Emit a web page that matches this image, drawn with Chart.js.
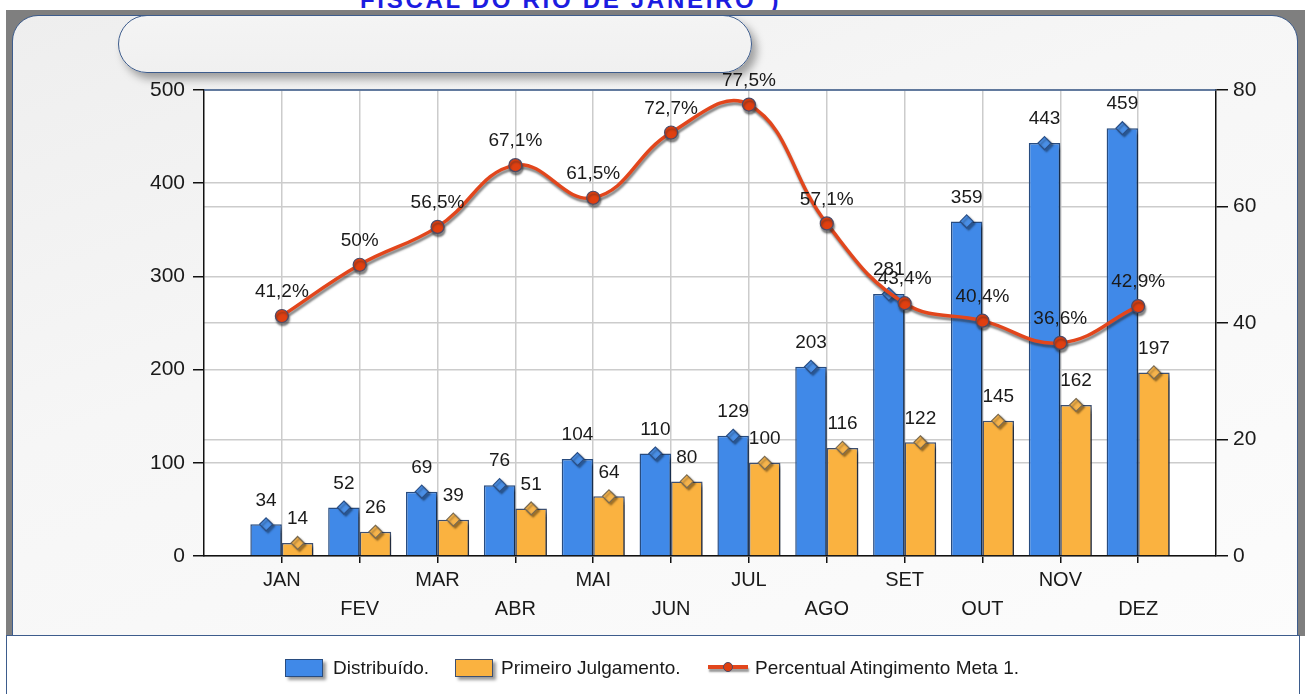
<!DOCTYPE html>
<html><head><meta charset="utf-8">
<script src="https://cdn.jsdelivr.net/npm/chart.js@4/dist/chart.umd.min.js"></script>
<style>
html,body{margin:0;padding:0;background:#fff;width:1305px;height:694px;overflow:hidden;font-family:'Liberation Sans',Arial,sans-serif;}
#toptitle{position:absolute;left:360px;top:-12px;font:bold 24px 'Liberation Sans',Arial,sans-serif;color:#1c1ce0;letter-spacing:2.7px;white-space:nowrap;line-height:24px}
#outer{position:absolute;left:6px;top:10px;width:1299px;height:626px;background:#7f7f7f}
#panel{position:absolute;left:12px;top:15px;width:1286px;height:630px;box-sizing:border-box;border:1.5px solid #3d5c8c;border-radius:26px 26px 0 0;background:linear-gradient(160deg,#eeeeee 0%,#f6f6f6 40%,#fcfcfc 100%)}
#titlebox{position:absolute;left:118px;top:15px;width:634px;height:58px;box-sizing:border-box;border:1.5px solid #3d5c8c;border-radius:29px;background:linear-gradient(180deg,#f4f4f4,#f0f0f0);box-shadow:5px 6px 8px rgba(0,0,0,0.35);z-index:3}
#legendbox{position:absolute;left:6px;top:635px;width:1294px;height:70px;box-sizing:border-box;border:1.5px solid #3d5c8c;background:#fff;z-index:1}
canvas{position:absolute;left:0;top:0;z-index:2}
.lg{position:absolute;z-index:4}
.lgbox{top:659px;width:38px;height:18px;box-sizing:border-box;border:1.5px solid #284c80;box-shadow:3px 3px 3px rgba(0,0,0,0.4)}
.lgtxt{top:656px;font-size:19px;line-height:24px;color:#1a1a1a;white-space:nowrap}
.lgline{top:665px;width:40px;height:4px;background:#e2461c;box-shadow:1px 3px 2px rgba(0,0,0,0.4)}
.lgdot{top:662px;width:10px;height:10px;border-radius:50%;background:#e03f10;box-sizing:border-box;border:1px solid #4d4a66}
</style></head>
<body>
<div id="toptitle">FISCAL DO RIO DE JANEIRO")</div>
<div id="outer"></div>
<div id="panel"></div>
<div id="titlebox"></div>
<div id="legendbox"></div>
<canvas id="c" width="1305" height="694"></canvas>
<div class="lg lgbox" style="left:285px;background:#4089e8"></div>
<div class="lg lgtxt" id="lt0" style="left:333px"></div>
<div class="lg lgbox" style="left:455px;background:#fab240;border-color:#3d4f70"></div>
<div class="lg lgtxt" id="lt1" style="left:501px"></div>
<div class="lg lgline" style="left:708px"></div>
<div class="lg lgdot" style="left:723px"></div>
<div class="lg lgtxt" id="lt2" style="left:755px"></div>
<script>
const categories = ['JAN','FEV','MAR','ABR','MAI','JUN','JUL','AGO','SET','OUT','NOV','DEZ'];
const distribuido = [34,52,69,76,104,110,129,203,281,359,443,459];
const primeiroJulgamento = [14,26,39,51,64,80,100,116,122,145,162,197];
const percentualMeta = [41.2,50,56.5,67.1,61.5,72.7,77.5,57.1,43.4,40.4,36.6,42.9];
const leftTicks = [0,100,200,300,400,500];
const rightTicks = [0,20,40,60,80];
const seriesNames = ['Distribuído.','Primeiro Julgamento.','Percentual Atingimento Meta 1.'];

seriesNames.forEach((n,i)=>{document.getElementById('lt'+i).textContent=n;});

Chart.defaults.font.family = "'Liberation Sans', Arial, sans-serif";
const TXT = '#1a1a1a';

function diamond(ctx,x,y,r){
  ctx.beginPath(); ctx.moveTo(x,y-r); ctx.lineTo(x+r,y); ctx.lineTo(x,y+r); ctx.lineTo(x-r,y); ctx.closePath();
  ctx.fill(); ctx.stroke();
}

const decor = {
  id:'decor',
  beforeDraw(chart){
    const {ctx, chartArea:a} = chart;
    ctx.save(); ctx.fillStyle='#ffffff'; ctx.fillRect(a.left,a.top,a.right-a.left,a.bottom-a.top); ctx.restore();
  },
  beforeDatasetDraw(chart,args){
    const ds = chart.data.datasets[args.index]; const ctx = chart.ctx;
    ctx.save();
    if(ds.type==='line'){ ctx.shadowColor='rgba(40,40,40,0.55)'; ctx.shadowOffsetX=1; ctx.shadowOffsetY=3; ctx.shadowBlur=2; }
    else { ctx.shadowColor='rgba(0,0,0,0.45)'; ctx.shadowOffsetX=4; ctx.shadowOffsetY=3; ctx.shadowBlur=3; }
  },
  afterDatasetDraw(chart,args){
    const ctx = chart.ctx; ctx.restore();
    const ds = chart.data.datasets[args.index];
    if(ds.type==='bar'){
      const meta = chart.getDatasetMeta(args.index);
      ctx.save();
      ctx.shadowColor='rgba(0,0,0,0.35)'; ctx.shadowOffsetX=2; ctx.shadowOffsetY=2; ctx.shadowBlur=2;
      ctx.fillStyle = ds.markerColor; ctx.strokeStyle = ds.markerBorder; ctx.lineWidth = 1.2;
      meta.data.forEach(el=>diamond(ctx, el.x, el.y, 6.5));
      ctx.restore();
    }
  },
  afterDatasetsDraw(chart){
    const {ctx, chartArea:a} = chart;
    ctx.save();
    ctx.strokeStyle='#3d5c8c'; ctx.lineWidth=1.5;
    ctx.beginPath(); ctx.moveTo(a.left,a.top); ctx.lineTo(a.right,a.top); ctx.stroke();
    ctx.font = "19px 'Liberation Sans', Arial, sans-serif";
    ctx.fillStyle = TXT; ctx.textAlign='center'; ctx.textBaseline='middle';
    chart.data.datasets.forEach((ds,i)=>{
      const meta = chart.getDatasetMeta(i);
      meta.data.forEach((el,j)=>{
        const v = ds.data[j].y;
        const t = ds.type==='line' ? String(v).replace('.',',')+'%' : String(v);
        ctx.fillText(t, el.x, el.y-24);
      });
    });
    ctx.restore();
  }
};

const gridCommon = {color:'#cccccc', lineWidth:1.5, tickColor:'#111111', tickWidth:1.5};

new Chart(document.getElementById('c'), {
  type:'bar',
  data:{
    datasets:[
      {type:'line', label:seriesNames[2], yAxisID:'y2', order:0,
       data: categories.map((c,i)=>({x:i+1, y:percentualMeta[i]})),
       borderColor:'#e2461c', borderWidth:3.5, tension:0.42, fill:false,
       pointRadius:6.5, pointBackgroundColor:'#e03f10', pointBorderColor:'#4d4a66', pointBorderWidth:1.2},
      {type:'bar', label:seriesNames[0], yAxisID:'y', order:1,
       data: categories.map((c,i)=>({x:i+1, y:distribuido[i]})),
       backgroundColor:'#4089e8', borderColor:'#284c80', borderWidth:1.5,
       categoryPercentage:0.81, barPercentage:1, markerColor:'#4a8fe6', markerBorder:'#2a4f86'},
      {type:'bar', label:seriesNames[1], yAxisID:'y', order:2,
       data: categories.map((c,i)=>({x:i+1, y:primeiroJulgamento[i]})),
       backgroundColor:'#fab240', borderColor:'#3d4f70', borderWidth:1.5,
       categoryPercentage:0.81, barPercentage:1, markerColor:'#f6b44c', markerBorder:'#7a6a50'}
    ]
  },
  options:{
    responsive:false, animation:false, devicePixelRatio:1,
    layout:{padding:{top:90, bottom:58, left:0, right:0}},
    plugins:{legend:{display:false}, tooltip:{enabled:false}},
    scales:{
      x:{type:'linear', min:0, max:categories.length+1, offset:false,
         grid:Object.assign({}, gridCommon, {tickLength:7, offset:false}),
         border:{color:'#111111', width:1.5},
         afterBuildTicks(s){ s.ticks = categories.map((c,i)=>({value:i+1})); },
         afterFit(s){ s.height = 80; },
         ticks:{autoSkip:false, maxRotation:0, minRotation:0, padding:3, color:TXT, font:{size:20, lineHeight:1.45},
           callback(v){ const i = Math.round(v)-1; const c = categories[i]; if(c===undefined) return ''; return i%2===0 ? [c] : ['', c]; }}
      },
      y:{type:'linear', position:'left', min:leftTicks[0], max:leftTicks[leftTicks.length-1],
         afterBuildTicks(s){ s.ticks = leftTicks.map(v=>({value:v})); },
         ticks:{stepSize:leftTicks[1]-leftTicks[0], padding:8, color:TXT, font:{size:21}},
         grid:Object.assign({}, gridCommon, {tickLength:11}),
         border:{color:'#111111', width:1.5},
         afterFit(s){ s.width = 204; }
      },
      y2:{type:'linear', position:'right', min:rightTicks[0], max:rightTicks[rightTicks.length-1],
         afterBuildTicks(s){ s.ticks = rightTicks.map(v=>({value:v})); },
         ticks:{stepSize:rightTicks[1]-rightTicks[0], padding:5, color:TXT, font:{size:21}},
         grid:Object.assign({}, gridCommon, {tickLength:12}),
         border:{color:'#111111', width:1.5},
         afterFit(s){ s.width = 89; }
      }
    }
  },
  plugins:[decor]
});
</script>
</body></html>
